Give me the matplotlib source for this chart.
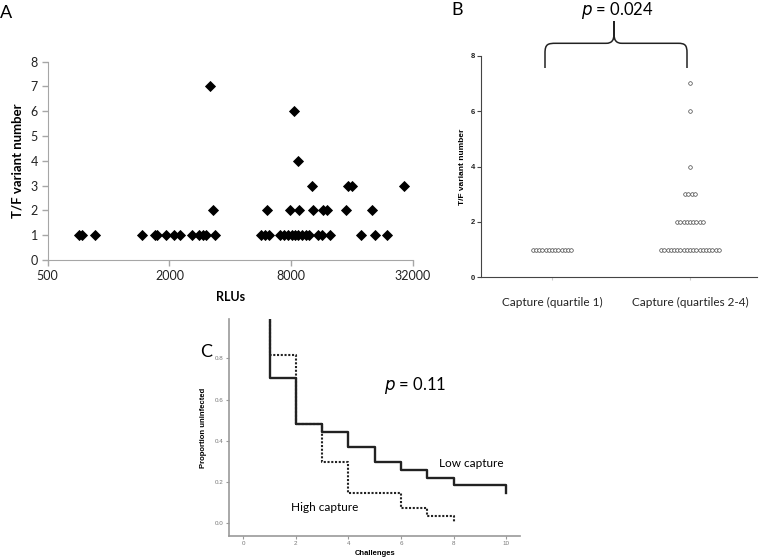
import numpy as np
import matplotlib.pyplot as plt
from matplotlib.path import Path
from matplotlib.patches import PathPatch

# Panel A: RLUs (log2 axis) vs T/F variant number
rlus = [717, 741, 857, 1467, 1696, 1741, 1922, 2105, 2254, 2593, 2807, 2918,
        3020, 3357, 5666, 5932, 6207, 7033, 7362, 7705, 8062, 8345, 8634,
        9036, 9457, 9787, 10839, 11346, 12426, 17687, 20740, 23775,
        3270, 6047, 7884, 8733, 10205, 11513, 11968, 14908, 19974,
        10090, 15304, 15908, 28857,
        8665, 8248, 3171]
variants = [1] * 32 + [2] * 9 + [3] * 4 + [4, 6, 7]
rlu_ticks = [500, 2000, 8000, 32000]

# Panel B: dot plot by capture quartile
groups = ["Capture (quartile 1)", "Capture (quartiles 2-4)"]
tf_q1 = [1] * 13
tf_q24 = [1] * 19 + [2] * 9 + [3] * 4 + [4, 6, 7]
p_b = "0.024"

# Panel C: Kaplan-Meier style curves
low_x = [1, 1, 2, 3, 4, 5, 6, 7, 8, 10]
low_y = [1.0, 0.704, 0.481, 0.444, 0.370, 0.296, 0.259, 0.222, 0.185, 0.148]
high_x = [1, 1, 2, 3, 4, 6, 7, 8]
high_y = [1.0, 0.815, 0.481, 0.296, 0.148, 0.074, 0.037, 0.0]
p_c = "0.11"

W, H = 760, 560
fig = plt.figure(figsize=(W / 100, H / 100), dpi=100)


def box(left, top, right, bottom):
    return [left / W, 1 - bottom / H, (right - left) / W, (bottom - top) / H]


def fx(x):
    return x / W


def fy(y):
    return 1 - y / H


CAL = "Lato"
ARIAL = "Liberation Sans"

# ---------------- A ----------------
ax = fig.add_axes(box(47.7, 61.7, 413, 260))
ax.plot(rlus, variants, "D", color="black", ms=5, mew=0.6, ls="none", clip_on=False)
ax.set_xscale("log", base=2)
ax.set_xlim(500, 32000)
ax.set_ylim(0, 8)
ax.set_xticks(rlu_ticks)
ax.set_xticklabels([str(t) for t in rlu_ticks], fontsize=9, family=CAL)
ax.minorticks_off()
ax.set_yticks(range(9))
ax.set_yticklabels([str(i) for i in range(9)], fontsize=9, family=CAL)
for s in ["top", "right"]:
    ax.spines[s].set_visible(False)
for s in ["left", "bottom"]:
    ax.spines[s].set_color("#a6a6a6")
ax.tick_params(colors="#a6a6a6", labelcolor="#222222", length=4, width=1, pad=3)
ax.set_xlabel("RLUs", fontsize=9, family=CAL, fontweight="bold", labelpad=7)
ax.set_ylabel("T/F variant number", fontsize=9.5, family=CAL, fontweight="bold", labelpad=5)
fig.text(fx(6), fy(13), "A", fontsize=13, family=CAL, ha="center", va="center")

# ---------------- B ----------------
bx = fig.add_axes(box(481, 55.7, 757, 277.3))
step = 0.0232
for i, vals in enumerate([tf_q1, tf_q24]):
    vals = np.array(vals)
    for v in np.unique(vals):
        n = int((vals == v).sum())
        xs = i + (np.arange(n) - (n - 1) / 2) * step
        bx.plot(xs, [v] * n, "o", mfc="white", mec="#444444", ms=2.6, mew=0.5, ls="none")
bx.set_xlim(-0.514, 1.486)
bx.set_ylim(0, 8)
bx.set_yticks([0, 2, 4, 6, 8])
bx.set_yticklabels(["0", "2", "4", "6", "8"], fontsize=5.5, family=ARIAL, fontweight="bold")
bx.set_xticks([0, 1])
bx.set_xticklabels(groups, fontsize=8.5, family=CAL)
bx.tick_params(axis="x", length=2, colors="#cccccc", labelcolor="#222222", pad=12)
bx.tick_params(axis="y", length=3, colors="#444444", labelcolor="#222222", pad=1)
for s in ["top", "right"]:
    bx.spines[s].set_visible(False)
for s in ["left", "bottom"]:
    bx.spines[s].set_color("#444444")
bx.set_ylabel("T/F variant number", fontsize=6, family=ARIAL, fontweight="bold", labelpad=4)
fig.text(fx(457), fy(10), "B", fontsize=13, family=CAL, ha="center", va="center")

# curly brace over the two groups
pts = [(545, 68), (545, 53), (545, 44), (548, 43.3), (556, 43.3), (606, 43.3),
       (612, 43.3), (614, 40), (614, 34), (614, 21), (614, 34),
       (614, 40), (616, 43.3), (622, 43.3), (678, 43.3),
       (685, 43.3), (687, 45), (687, 53), (687, 68)]
codes = [Path.MOVETO, Path.LINETO, Path.CURVE4, Path.CURVE4, Path.CURVE4, Path.LINETO,
         Path.CURVE4, Path.CURVE4, Path.CURVE4, Path.LINETO, Path.LINETO,
         Path.CURVE4, Path.CURVE4, Path.CURVE4, Path.LINETO,
         Path.CURVE4, Path.CURVE4, Path.CURVE4, Path.LINETO]
brace = Path([(fx(x), fy(y)) for x, y in pts], codes)
fig.add_artist(PathPatch(brace, transform=fig.transFigure, fill=False,
                         edgecolor="#222222", lw=1.1))
fig.text(fx(617), fy(15), "$p$ = " + p_b, fontsize=12, family=CAL,
         ha="center", va="baseline")

# ---------------- C ----------------
cx = fig.add_axes(box(229.3, 319.3, 520, 535.7))
cx.step(high_x, high_y, where="post", color="#222222", lw=1.5, ls=(0, (1, 0.8)))
cx.step(low_x, low_y, where="post", color="#222222", lw=1.7)
cx.set_xlim(-0.53, 10.52)
cx.set_ylim(-0.06, 0.99)
cx.set_xticks(range(0, 11, 2))
cx.set_xticklabels([str(t) for t in range(0, 11, 2)], fontsize=4.5, family=ARIAL)
cx.set_yticks([0.0, 0.2, 0.4, 0.6, 0.8])
cx.set_yticklabels(["0.0", "0.2", "0.4", "0.6", "0.8"], fontsize=4.5, family=ARIAL)
cx.tick_params(length=2, colors="#999999", labelcolor="#777777", pad=2)
for s in ["top", "right"]:
    cx.spines[s].set_visible(False)
for s in ["left", "bottom"]:
    cx.spines[s].set_color("#999999")
    cx.spines[s].set_linewidth(1.2)
cx.set_xlabel("Challenges", fontsize=5.5, family=ARIAL, fontweight="bold", labelpad=3)
cx.set_ylabel("Proportion uninfected", fontsize=5.5, family=ARIAL, fontweight="bold", labelpad=6)
fig.text(fx(415), fy(390), "$p$ = " + p_c, fontsize=12, family=CAL,
         ha="center", va="baseline")
fig.text(fx(471.5), fy(467), "Low capture", fontsize=8.5, family=CAL,
         ha="center", va="baseline")
fig.text(fx(324.3), fy(511), "High capture", fontsize=8.5, family=CAL,
         ha="center", va="baseline")
fig.text(fx(206), fy(352), "C", fontsize=13, family=CAL, ha="center", va="center")

fig.savefig("out.png", dpi=100)
